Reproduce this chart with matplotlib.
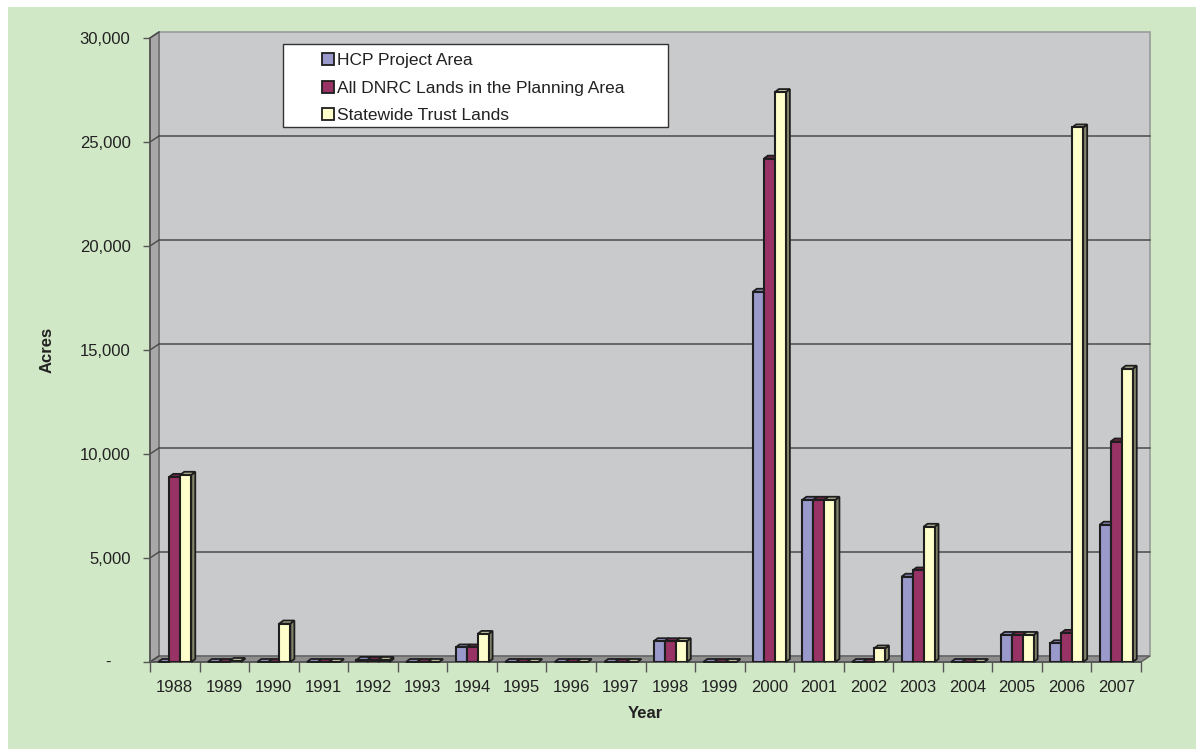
import matplotlib
matplotlib.use("Agg")
import matplotlib.pyplot as plt
from matplotlib.patches import Rectangle, Polygon, Patch
from matplotlib.ticker import FixedLocator, FuncFormatter

plt.rcParams['font.family'] = ['Liberation Sans', 'DejaVu Sans']

years = ['1988', '1989', '1990', '1991', '1992', '1993', '1994', '1995', '1996', '1997',
         '1998', '1999', '2000', '2001', '2002', '2003', '2004', '2005', '2006', '2007']
hcp_area = [0, 0, 0, 0, 100, 0, 700, 0, 0, 0,
            1000, 0, 17800, 7800, 0, 4100, 0, 1300, 900, 6600]
dnrc_planning = [8900, 0, 0, 0, 100, 0, 700, 0, 0, 0,
                 1000, 0, 24200, 7800, 0, 4400, 0, 1300, 1400, 10600]
statewide = [9000, 50, 1850, 0, 100, 0, 1350, 0, 0, 0,
             1000, 0, 27400, 7800, 650, 6500, 0, 1300, 25700, 14100]
series_names = ['HCP Project Area', 'All DNRC Lands in the Planning Area', 'Statewide Trust Lands']

# front, top, side colours for each series
front_cols = ['#9999cc', '#993366', '#ffffcc']
top_cols = ['#8f8fc2', '#7a2850', '#bdbd9c']
side_cols = ['#6a6a99', '#6a2247', '#85856c']
edge = '#1e1e1e'

W, H = 1196, 749
fig = plt.figure(figsize=(W / 100, H / 100), dpi=100, facecolor='white')
fig.patches.append(Rectangle((8 / W, 0), 1, 1 - 7 / H, transform=fig.transFigure,
                             facecolor='#d1e8c7', edgecolor='none', zorder=-1))

ax = fig.add_axes([150 / W, 87 / H, 991 / W, 624 / H])
ax.set_zorder(1)
ax.set_facecolor('none')
n = len(years)
ymax = 30000
ax.set_xlim(-0.5, n - 0.5)
ax.set_ylim(0, ymax)
for s in ax.spines.values():
    s.set_visible(False)

# data units per pixel, used for the pseudo 3-D depth
px = n / 991
py = ymax / 624
wx, wy = 9 * px, 6 * py  # wall depth

# walls and floor
ax.add_patch(Rectangle((-0.5 + wx, wy), n, ymax, facecolor='#c9cacc', edgecolor='#9a9a9a',
                       lw=1.2, zorder=0.5, clip_on=False))
ax.add_patch(Polygon([(-0.5, 0), (-0.5 + wx, wy), (-0.5 + wx, ymax + wy), (-0.5, ymax)],
                     facecolor='#a8a8a8', edgecolor='#707070', lw=1.2, zorder=0.6, clip_on=False))
ax.add_patch(Polygon([(-0.5, 0), (n - 0.5, 0), (n - 0.5 + wx, wy), (-0.5 + wx, wy)],
                     facecolor='#8e8e8e', edgecolor='#5e5e5e', lw=1, zorder=0.7, clip_on=False))

yticks = list(range(0, ymax + 1, 5000))
for v in yticks[1:-1]:
    ax.plot([-0.5 + wx, n - 0.5 + wx], [v + wy, v + wy], color='#4a4a4a', lw=1.1,
            zorder=0.8, clip_on=False)
for v in yticks:
    ax.plot([-0.5, -0.5 + wx], [v, v + wy], color='#4a4a4a', lw=1, zorder=0.9, clip_on=False)

# front axis lines
ax.plot([-0.5, -0.5], [0, ymax], color='#555555', lw=1.2, zorder=1, clip_on=False)
ax.plot([-0.5, n - 0.5], [0, 0], color='#555555', lw=1.2, zorder=1, clip_on=False)

# clustered columns with top and side faces
bw = 11 / 49.55
dx, dy = 4 * px, 3 * py
all_series = [hcp_area, dnrc_planning, statewide]
handles = []
for j, vals in enumerate(all_series):
    xs = [i + (j - 1) * bw for i in range(n)]
    bars = ax.bar(xs, vals, width=bw, color=front_cols[j], edgecolor=edge, linewidth=1.5,
                  zorder=3 + j * 0.3 + 0.1)
    for r in bars:
        x0, x1 = r.get_x(), r.get_x() + r.get_width()
        top = r.get_height()
        ax.add_patch(Polygon([(x1, 0), (x1 + dx, dy), (x1 + dx, top + dy), (x1, top)],
                             facecolor=side_cols[j], edgecolor=edge, lw=1.3,
                             zorder=3 + j * 0.3, clip_on=False))
        ax.add_patch(Polygon([(x0, top), (x1, top), (x1 + dx, top + dy), (x0 + dx, top + dy)],
                             facecolor=top_cols[j], edgecolor=edge, lw=1.3,
                             zorder=3 + j * 0.3, clip_on=False))
    handles.append(Patch(facecolor=front_cols[j], edgecolor=edge, lw=1.3))

# ticks
ax.yaxis.set_major_locator(FixedLocator(yticks))
ax.yaxis.set_major_formatter(FuncFormatter(lambda v, p: '' if v == 0 else f'{int(v):,}'))
ax.tick_params(axis='y', length=5, width=1, color='#555555', pad=9, labelsize=12,
               labelcolor='#222222')
ax.annotate('-', xy=(0, 0), xycoords=('axes fraction', 'data'), xytext=(-30, 0),
            textcoords='offset points', ha='center', va='center', fontsize=12, color='#222222')

ax.set_xticks(range(n))
ax.set_xticklabels(years)
ax.set_xticks([i - 0.5 for i in range(n + 1)], minor=True)
ax.tick_params(axis='x', which='major', length=0, pad=13, labelsize=12, labelcolor='#222222')
ax.tick_params(axis='x', which='minor', length=7.5, width=1, color='#555555')

fig.text(47 / W, 1 - 350 / H, 'Acres', rotation=90, ha='center', va='center',
         fontsize=12, fontweight='bold', color='#222222')
fig.text(645 / W, 1 - 713 / H, 'Year', ha='center', va='center',
         fontsize=12, fontweight='bold', color='#222222')

# legend box
fig.patches.append(Rectangle((283 / W, 1 - 127 / H), 385 / W, 83 / H, transform=fig.transFigure,
                             facecolor='white', edgecolor='#333333', lw=1, zorder=5))
leg = fig.legend(handles, series_names, loc='upper left', bbox_to_anchor=(322 / W, 1 - 53 / H),
                 frameon=False, fontsize=12.5, handlelength=0.7, handleheight=0.7,
                 handletextpad=0.15, labelspacing=0.72, borderpad=0, borderaxespad=0)
leg.set_zorder(6)
for t in leg.get_texts():
    t.set_color('#222222')

fig.savefig('out.png', dpi=100, facecolor='white')
